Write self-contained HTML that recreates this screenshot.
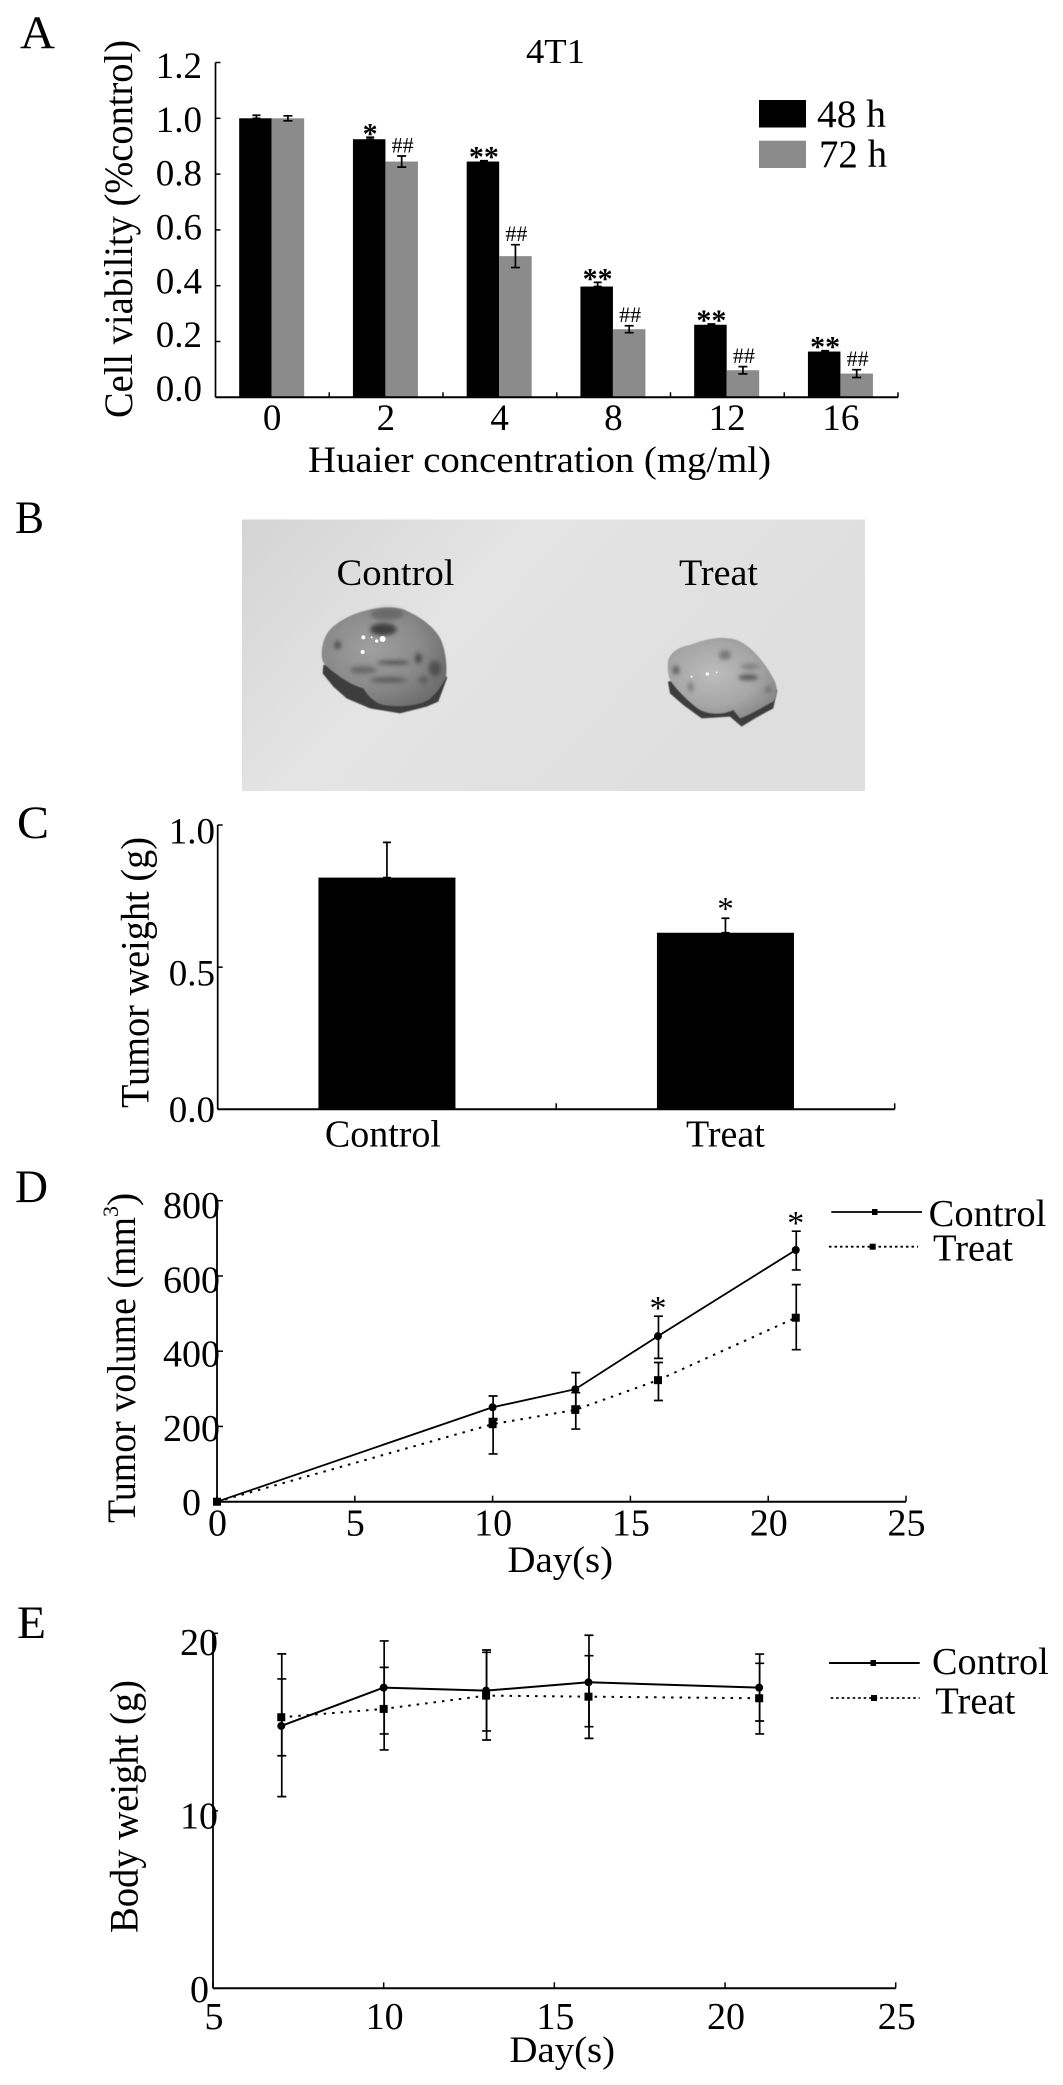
<!DOCTYPE html>
<html lang="en">
<head>
<meta charset="utf-8">
<title>Huaier 4T1 figure</title>
<style>
html,body{margin:0;padding:0;background:#fff;}
svg{display:block;}
text{font-family:"Liberation Serif","Times New Roman",serif;fill:#000;}
</style>
</head>
<body>
<svg id="fig" xmlns="http://www.w3.org/2000/svg" width="1063" height="2085" viewBox="0 0 1063 2085">
  <defs>
    <linearGradient id="photo-bg" x1="0" y1="0" x2="1" y2="0.4">
      <stop offset="0" stop-color="#d4d4d4"/><stop offset="0.4" stop-color="#e4e4e4"/><stop offset="1" stop-color="#dedede"/>
    </linearGradient>
    <radialGradient id="tumor-a" cx="0.4" cy="0.42" r="0.65">
      <stop offset="0" stop-color="#a0a0a0"/><stop offset="0.6" stop-color="#8a8a8a"/><stop offset="1" stop-color="#6e6e6e"/>
    </radialGradient>
    <radialGradient id="tumor-b" cx="0.42" cy="0.45" r="0.62">
      <stop offset="0" stop-color="#bdbdbd"/><stop offset="0.65" stop-color="#a6a6a6"/><stop offset="1" stop-color="#8a8a8a"/>
    </radialGradient>
    <filter id="soft" x="-30%" y="-30%" width="160%" height="160%"><feGaussianBlur stdDeviation="6"/></filter>
    <filter id="edge" x="-5%" y="-5%" width="110%" height="110%"><feGaussianBlur stdDeviation="1.5"/></filter>
  </defs>
  <rect width="1063" height="2085" fill="#fff"/>

  <!-- panel letters -->
  <text x="20" y="48" font-size="47" textLength="35" lengthAdjust="spacingAndGlyphs">A</text>
  <text x="15" y="533" font-size="47" textLength="29" lengthAdjust="spacingAndGlyphs">B</text>
  <text x="17" y="838" font-size="47" textLength="32" lengthAdjust="spacingAndGlyphs">C</text>
  <text x="15" y="1202" font-size="47" textLength="33" lengthAdjust="spacingAndGlyphs">D</text>
  <text x="17" y="1638" font-size="47" textLength="29" lengthAdjust="spacingAndGlyphs">E</text>

  <!-- panel A static text -->
  <text x="526" y="63" font-size="35" textLength="59" lengthAdjust="spacingAndGlyphs">4T1</text>
  <text transform="translate(132,418) rotate(-90)" font-size="40" textLength="378" lengthAdjust="spacingAndGlyphs">Cell viability (%control)</text>
  <text x="308" y="472" font-size="37" textLength="463" lengthAdjust="spacingAndGlyphs">Huaier concentration (mg/ml)</text>
  <rect x="759" y="100" width="47" height="27.5" fill="#000"/>
  <text x="817" y="127" font-size="39" textLength="69" lengthAdjust="spacingAndGlyphs">48 h</text>
  <rect x="759" y="140.7" width="47" height="27.3" fill="#8b8b8b"/>
  <text x="819" y="167" font-size="39" textLength="68" lengthAdjust="spacingAndGlyphs">72 h</text>

  <!-- panel B photo -->
  <g>
    <rect x="242" y="519.5" width="623" height="271.5" fill="url(#photo-bg)"/>
    <text x="336.5" y="585" font-size="37" textLength="118" lengthAdjust="spacingAndGlyphs">Control</text>
    <text x="679" y="585" font-size="37" textLength="79" lengthAdjust="spacingAndGlyphs">Treat</text>
    <g transform="translate(300,590) scale(0.3333)">
      <path d="M70,225 L68,250 100,290 140,325 210,355 300,370 380,350 415,335 442,262 300,200Z" fill="#3c3c3c" filter="url(#edge)"/>
      <path d="M65,190 C68,130 95,105 150,78 C200,55 270,45 310,58 C360,78 410,115 425,155 C438,190 442,230 438,262 C425,290 400,320 385,330 C350,350 290,352 250,345 C215,335 200,310 190,295 C150,285 110,255 75,225 C68,215 65,205 65,190Z" fill="url(#tumor-a)" filter="url(#edge)"/>
      <g fill="#404040" filter="url(#soft)">
        <ellipse cx="250" cy="118" rx="40" ry="18"/>
        <ellipse cx="260" cy="72" rx="50" ry="18" opacity="0.45"/>
        <ellipse cx="113" cy="165" rx="10" ry="13" opacity="0.8"/>
        <ellipse cx="280" cy="218" rx="50" ry="6" opacity="0.8"/>
        <ellipse cx="355" cy="205" rx="11" ry="16" opacity="0.8"/>
        <ellipse cx="405" cy="235" rx="18" ry="24" opacity="0.7"/>
        <ellipse cx="190" cy="240" rx="40" ry="12" opacity="0.5"/>
        <ellipse cx="265" cy="270" rx="55" ry="9" opacity="0.6"/>
        <ellipse cx="370" cy="270" rx="14" ry="12" opacity="0.5"/>
      </g>
      <g fill="#fff">
        <circle cx="190" cy="142" r="6"/><circle cx="248" cy="147" r="9"/><circle cx="230" cy="153" r="5"/><circle cx="188" cy="186" r="6"/><circle cx="215" cy="142" r="3"/>
      </g>
    </g>
    <g transform="translate(300,590) scale(0.3333)">
      <path d="M1104,275 L1110,310 1150,345 1205,385 1290,380 1325,410 1365,385 1420,355 1432,300 1250,250Z" fill="#3e3e3e" filter="url(#edge)"/>
      <path d="M1104,215 C1110,185 1140,170 1170,165 C1210,150 1260,135 1310,150 C1360,170 1400,225 1425,275 C1435,300 1430,320 1420,335 C1390,350 1350,375 1320,385 L1300,360 C1270,375 1230,375 1200,360 C1170,340 1130,300 1110,270 C1104,255 1102,235 1104,215Z" fill="url(#tumor-b)" filter="url(#edge)"/>
      <g fill="#4a4a4a" filter="url(#soft)">
        <ellipse cx="1128" cy="240" rx="10" ry="14" opacity="0.8"/>
        <ellipse cx="1275" cy="195" rx="18" ry="15" opacity="0.55"/>
        <ellipse cx="1345" cy="262" rx="30" ry="9" opacity="0.85"/>
        <ellipse cx="1350" cy="230" rx="28" ry="10" opacity="0.4"/>
        <ellipse cx="1172" cy="290" rx="8" ry="16" opacity="0.5"/>
        <ellipse cx="1405" cy="298" rx="12" ry="10" opacity="0.45"/>
      </g>
      <g fill="#fff">
        <circle cx="1222" cy="252" r="5"/><circle cx="1175" cy="260" r="3"/><circle cx="1250" cy="247" r="2.5"/>
      </g>
    </g>
  </g>

  <!-- panel C static text -->
  <text transform="translate(148.5,1108) rotate(-90)" font-size="40" textLength="271" lengthAdjust="spacingAndGlyphs">Tumor weight (g)</text>

  <!-- panel D static text -->
  <text transform="translate(135,1523) rotate(-90)" font-size="40"><tspan textLength="306" lengthAdjust="spacingAndGlyphs">Tumor volume (mm</tspan><tspan font-size="22" dy="-17">3</tspan><tspan dy="17" font-size="40">)</tspan></text>
  <text x="507.5" y="1572" font-size="37" textLength="105.5" lengthAdjust="spacingAndGlyphs">Day(s)</text>
  <text x="928.7" y="1226" font-size="38" textLength="117.6" lengthAdjust="spacingAndGlyphs">Control</text>
  <text x="933" y="1260.7" font-size="38" textLength="80" lengthAdjust="spacingAndGlyphs">Treat</text>

  <!-- panel E static text -->
  <text transform="translate(137.5,1933) rotate(-90)" font-size="40" textLength="253" lengthAdjust="spacingAndGlyphs">Body weight (g)</text>
  <text x="509.5" y="2062" font-size="37" textLength="105.5" lengthAdjust="spacingAndGlyphs">Day(s)</text>
  <text x="932" y="1674" font-size="38" textLength="116.7" lengthAdjust="spacingAndGlyphs">Control</text>
  <text x="935.3" y="1713.3" font-size="38" textLength="80" lengthAdjust="spacingAndGlyphs">Treat</text>
</svg>
<script>
// ---- Panel A data ----
const concentrationCategories = ['0', '2', '4', '8', '12', '16'];
const viability48h = [1.0, 0.925, 0.845, 0.397, 0.26, 0.164];
const viability72h = [1.0, 0.845, 0.506, 0.244, 0.097, 0.085];
const viability48hErr = [0.011, 0.007, 0.003, 0.015, 0.003, 0.003];
const viability72hErr = [0.009, 0.02, 0.041, 0.0125, 0.013, 0.014];
const viability48hMarks = ['', '*', '**', '**', '**', '**'];
const viability72hMarks = ['', '##', '##', '##', '##', '##'];
const viabilityTicks = ['0.0', '0.2', '0.4', '0.6', '0.8', '1.0', '1.2'];

// ---- Panel C data ----
const weightCategories = ['Control', 'Treat'];
const tumorWeight = [0.815, 0.621];
const tumorWeightErr = [0.124, 0.051];
const tumorWeightMarks = ['', '*'];
const tumorWeightTicks = ['0.0', '0.5', '1.0'];

// ---- Panel D data ----
const volumeDays = [0, 10, 13, 16, 21];
const volumeControl = [0, 251, 299, 440, 669];
const volumeTreat = [0, 206, 244, 323, 489];
const volumeControlHigh = [0, 281, 343, 493, 719];
const volumeControlLow = [0, 221, 254, 381, 616];
const volumeTreatHigh = [0, 217, 290, 370, 577];
const volumeTreatLow = [0, 127, 193, 269, 404];
const volumeMarks = ['', '', '', '*', '*'];
const volumeYTicks = [0, 200, 400, 600, 800];
const volumeXTicks = [0, 5, 10, 15, 20, 25];

// ---- Panel E data ----
const bodyDays = [7, 10, 13, 16, 21];
const bodyControl = [14.78, 16.94, 16.77, 17.24, 16.94];
const bodyTreat = [15.27, 15.74, 16.49, 16.43, 16.34];
const bodyControlHigh = [18.84, 19.57, 19.06, 19.89, 18.83];
const bodyControlLow = [10.8, 14.33, 14.5, 14.74, 15.06];
const bodyTreatHigh = [17.43, 18.08, 18.93, 18.74, 18.31];
const bodyTreatLow = [13.1, 13.43, 13.99, 14.08, 14.33];
const bodyYTicks = [0, 10, 20];
const bodyXTicks = [5, 10, 15, 20, 25];

const NS = 'http://www.w3.org/2000/svg';
const fig = document.getElementById('fig');
function line(x1, y1, x2, y2, w, dash) {
  const el = document.createElementNS(NS, 'line');
  el.setAttribute('x1', x1); el.setAttribute('y1', y1);
  el.setAttribute('x2', x2); el.setAttribute('y2', y2);
  el.setAttribute('stroke', '#000');
  el.setAttribute('stroke-width', w || 1.5);
  if (dash) el.setAttribute('stroke-dasharray', dash);
  fig.appendChild(el);
  return el;
}
function rect(x, y, w, h, fill) {
  const el = document.createElementNS(NS, 'rect');
  el.setAttribute('x', x); el.setAttribute('y', y);
  el.setAttribute('width', w); el.setAttribute('height', h);
  el.setAttribute('fill', fill);
  fig.appendChild(el);
  return el;
}
function text(x, y, s, size, anchor) {
  const el = document.createElementNS(NS, 'text');
  el.setAttribute('x', x); el.setAttribute('y', y);
  el.setAttribute('font-size', size);
  el.setAttribute('text-anchor', anchor || 'middle');
  el.textContent = s;
  fig.appendChild(el);
  return el;
}
function poly(points, w, dash) {
  const el = document.createElementNS(NS, 'polyline');
  el.setAttribute('points', points.map(p => p.join(',')).join(' '));
  el.setAttribute('fill', 'none');
  el.setAttribute('stroke', '#000');
  el.setAttribute('stroke-width', w);
  if (dash) el.setAttribute('stroke-dasharray', dash);
  fig.appendChild(el);
  return el;
}
function errorBar(x, yHi, yLo, capW) {
  const g = document.createElementNS(NS, 'path');
  g.setAttribute('d', 'M' + x + ',' + yHi + 'V' + yLo + 'M' + (x - capW) + ',' + yHi + 'H' + (x + capW) + 'M' + (x - capW) + ',' + yLo + 'H' + (x + capW));
  g.setAttribute('stroke', '#000');
  g.setAttribute('stroke-width', 1.7);
  g.setAttribute('fill', 'none');
  fig.appendChild(g);
  return g;
}

// ---- Panel A ----
const aX0 = 215.5, aX1 = 898, aY0 = 397.3, aPerUnit = 279;
const aBand = (aX1 - aX0) / concentrationCategories.length;
const aBarW = 32.5;
const aY = v => aY0 - v * aPerUnit;
const aCenter = i => aX0 + aBand * (i + 0.5) - 0.7;
concentrationCategories.forEach((c, i) => {
  const cx = aCenter(i);
  const b48 = rect(cx - aBarW, aY(viability48h[i]), aBarW, aY0 - aY(viability48h[i]), '#000');
  
  
  const b72 = rect(cx, aY(viability72h[i]), aBarW, aY0 - aY(viability72h[i]), '#8b8b8b');
  
  
  const x48 = cx - aBarW / 2 + 1;
  const x72 = cx + aBarW / 2;
  const top48 = aY(viability48h[i] + viability48hErr[i]);
  const top72 = aY(viability72h[i] + viability72hErr[i]);
  const e48 = errorBar(x48, top48, aY(viability48h[i]), 4);
  
  
  const e72 = errorBar(x72, top72, aY(viability72h[i] - viability72hErr[i]), 4.5);
  
  
  if (viability48hMarks[i]) {
    const m = text(x48, top48 + 6, viability48hMarks[i], 30);
    m.setAttribute('font-weight', 'bold');
    
    
  }
  if (viability72hMarks[i]) {
    const m = text(x72 + 1, top72 - 3.5, viability72hMarks[i], 22);
    
    
  }
  const lab = text(cx + 0.5, 430, c, 37);
  
  
  const t = line(aX0 + aBand * (i + 1), aY0 - 5, aX0 + aBand * (i + 1), aY0, 1.5);
  
  
});
viabilityTicks.forEach(lbl => {
  const v = parseFloat(lbl);
  const t = line(aX0, aY(v), aX0 + 5, aY(v), 1.5);
  
  
  const l = text(202, 401 - v * 269.2, lbl, 37, 'end');
  
  
});
const aAxisY = line(aX0, aY(1.2), aX0, aY0, 1.7);


const aAxisX = line(aX0, aY0, aX1, aY0, 2);



// ---- Panel C ----
const cX0 = 217.7, cX1 = 894.7, cY0 = 1109.3, cPerUnit = 284.3;
const cBand = (cX1 - cX0) / weightCategories.length;
const cBarW = 137;
const cY = v => cY0 - v * cPerUnit;
const cCenter = i => cX0 + cBand * (i + 0.5);
weightCategories.forEach((c, i) => {
  const cx = cCenter(i);
  const eb = errorBar(cx, cY(tumorWeight[i] + tumorWeightErr[i]), cY(tumorWeight[i]), 4);
  
  
  const b = rect(cx - cBarW / 2, cY(tumorWeight[i]), cBarW, cY0 - cY(tumorWeight[i]), '#000');
  
  
  const l = text(i === 0 ? cx - 4 : cx, 1146.7, c, 38);
  
  
  if (tumorWeightMarks[i]) {
    const m = text(cx, cY(tumorWeight[i] + tumorWeightErr[i]) + 1, tumorWeightMarks[i], 33);
    
    
  }
  const t = line(cX0 + cBand * (i + 1), cY0 - 6, cX0 + cBand * (i + 1), cY0, 1.5);
  
  
});
tumorWeightTicks.forEach(lbl => {
  const v = parseFloat(lbl);
  const t = line(cX0, cY(v), cX0 + 5, cY(v), 1.5);
  
  
  const l = text(215, cY(v) + (v === 0 ? 12.5 : 18.3), lbl, 37, 'end');
  
  
});
const cAxisY = line(cX0, cY(1), cX0, cY0, 1.7);


const cAxisX = line(cX0, cY0, cX1, cY0, 2);



// ---- shared line-chart drawing ----
function drawSeries(prefix, days, vals, hi, lo, xf, yf, dash, lineW, cap) {
  const pl = poly(days.map((d, i) => [xf(d), yf(vals[i])]), lineW, dash);
  
  
  days.forEach((d, i) => {
    if (hi[i] !== lo[i]) {
      const e = errorBar(xf(d) + 0.5, yf(hi[i]), yf(lo[i]), cap);
      
      
    }
    let p;
    if (dash) {
      p = rect(xf(d) - 4, yf(vals[i]) - 4, 8, 8, '#000');
    } else {
      p = document.createElementNS(NS, 'circle');
      p.setAttribute('cx', xf(d)); p.setAttribute('cy', yf(vals[i])); p.setAttribute('r', 4);
      p.setAttribute('fill', '#000');
      fig.appendChild(p);
    }
    
    
  });
}

// ---- Panel D ----
const dX0 = 217, dX1 = 906, dY0 = 1501.7, dY1 = 1200.7;
const dX = d => dX0 + d / 25 * (dX1 - dX0);
const dY = v => dY0 - v / 800 * (dY0 - dY1);
drawSeries('volume-treat', volumeDays, volumeTreat, volumeTreatHigh, volumeTreatLow, dX, dY, '2.5 6', 2, 4.5);
drawSeries('volume-control', volumeDays, volumeControl, volumeControlHigh, volumeControlLow, dX, dY, null, 1.8, 4.5);
volumeDays.forEach((d, i) => {
  if (volumeMarks[i]) {
    const m = text(dX(d), dY(volumeControlHigh[i]) + 3, volumeMarks[i], 34);
    
    
  }
});
volumeYTicks.forEach(v => {
  const t = line(dX0, dY(v), dX0 + 6, dY(v), 1.5);
  
  
  const l = text(v === 0 ? 201 : 220, 1515 - v * 0.371, v, 38, 'end');
  
  
});
volumeXTicks.forEach(v => {
  const t = line(dX(v), dY0 - 6, dX(v), dY0, 1.5);
  
  
  const l = text(dX(v) + 0.5, 1535.5, v, 38);
  
  
});
const dAxisY = line(dX0, dY1, dX0, dY0, 1.8);


const dAxisX = line(dX0, dY0, dX1, dY0, 2);



// ---- Panel E ----
const eX0 = 213, eX1 = 895.7, eY0 = 1988.3, ePer10 = 177.5;
const eX = d => eX0 + (d - 5) / 20 * (eX1 - eX0);
const eY = v => eY0 - v / 10 * ePer10;
drawSeries('body-treat', bodyDays, bodyTreat, bodyTreatHigh, bodyTreatLow, eX, eY, '2.5 6', 2, 4.5);
drawSeries('body-control', bodyDays, bodyControl, bodyControlHigh, bodyControlLow, eX, eY, null, 2, 4.5);
bodyYTicks.forEach(v => {
  const t = line(eX0, eY(v), eX0 + 5, eY(v), 1.5);
  
  
  const l = text(v === 0 ? 209 : 218, 2002 - v * 17.35, v, 38, 'end');
  
  
});
bodyXTicks.forEach(v => {
  const t = line(eX(v), eY0 - 6, eX(v), eY0, 1.5);
  
  
  const l = text(eX(v) + 1, 2029, v, 38);
  
  
});
const eAxisY = line(eX0, eY(20), eX0, eY0, 1.8);


const eAxisX = line(eX0, eY0, eX1, eY0, 2);



// ---- line legends ----
const lg1 = line(831.3, 1212, 922, 1212, 1.8);


const lg2 = line(829, 1246.7, 918, 1246.7, 1.8, '2.5 3');


const lg3 = line(829, 1663, 919.7, 1663, 2);


const lg4 = line(830.7, 1698, 919.7, 1698, 1.8, '2.5 3');


const lp1 = rect(872, 1209, 5.5, 6, '#000');


const lp2 = rect(869.7, 1243.7, 6, 6, '#000');


const lp3 = rect(870.5, 1660, 5.5, 6, '#000');


const lp4 = rect(871, 1695, 6, 6, '#000');


</script>
</body>
</html>
